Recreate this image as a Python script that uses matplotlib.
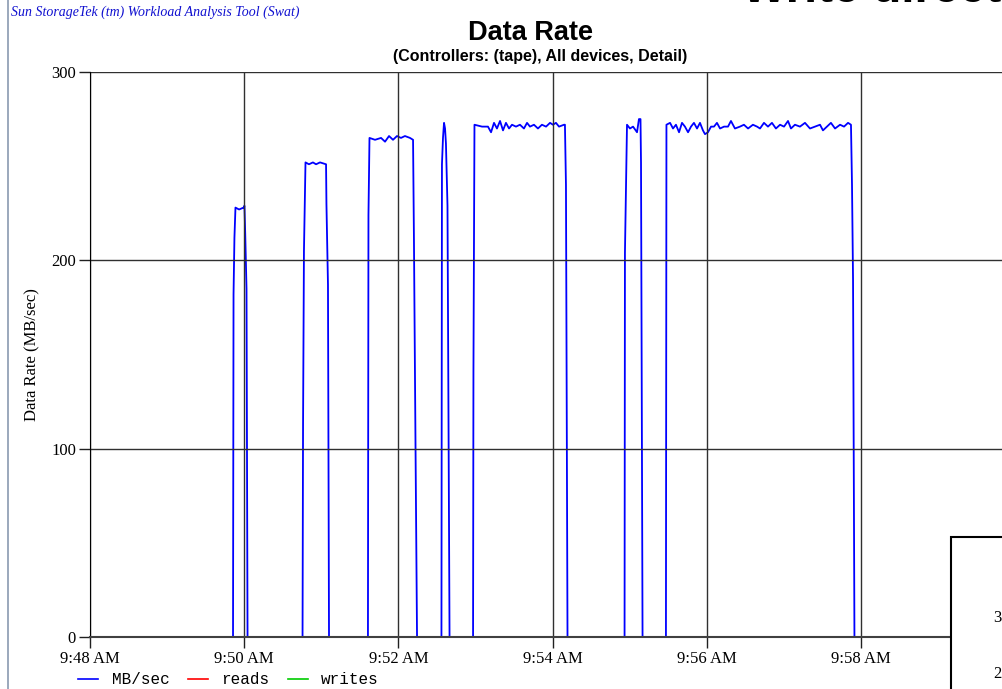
import numpy as np
import matplotlib.pyplot as plt
from matplotlib.lines import Line2D
from matplotlib.patches import Rectangle

# --- data: elapsed seconds after 9:48:00 AM and aggregate tape rate (MB/sec) ---
burst1_s = [111.3, 111.7, 112.4, 113.2, 116.0, 119.5, 120.2, 120.8, 121.8, 122.6]
burst1_mbs = [0, 182, 212, 228, 227, 228, 229, 214, 185, 0]

burst2_s = [165.4, 165.8, 166.5, 167.7, 170.4, 173.5, 175.9, 179.0, 183.7, 184.0, 185.2, 186.0]
burst2_mbs = [0, 113, 205, 252, 251, 252, 251, 252, 251, 230, 187, 0]

burst3_s = [216.3, 216.7, 217.5, 221.8, 226.5, 229.6, 232.7, 235.8, 238.9, 242.0,
            245.1, 249.0, 251.4, 252.1, 253.3, 254.5]
burst3_mbs = [0, 224, 265, 264, 265, 263, 266, 264, 266, 265,
              266, 265, 264, 211, 103, 0]

burst4_s = [273.5, 273.9, 274.7, 275.5, 276.3, 277.0, 278.2, 279.8]
burst4_mbs = [0, 251, 265, 273, 270, 262, 229, 0]

burst5_s = [298.1, 298.4, 299.2, 305.1, 309.7, 312.1, 314.4, 316.7, 319.1, 321.4,
            323.7, 326.1, 328.4, 331.5, 334.6, 337.7, 340.1, 342.4, 345.5, 348.6,
            351.7, 354.9, 358.0, 360.3, 362.6, 365.0, 368.9, 369.6, 370.4, 371.6]
burst5_mbs = [0, 141, 272, 271, 271, 268, 273, 270, 274, 269,
              273, 270, 272, 271, 272, 270, 273, 271, 272, 270,
              272, 271, 273, 272, 273, 271, 272, 272, 240, 0]

burst6_s = [416.0, 416.3, 417.9, 420.2, 422.6, 425.7, 427.2, 428.4, 428.8, 430.0]
burst6_mbs = [0, 204, 272, 270, 271, 268, 275, 275, 252, 0]

burst7_s = [448.2, 448.6, 451.4, 453.7, 456.0, 458.4, 460.7, 463.0, 465.4, 467.7,
            470.0, 472.4, 474.7, 477.0, 478.6, 480.9, 483.3, 485.6, 487.9, 490.3,
            493.4, 496.5, 498.8, 501.9, 505.8, 508.9, 512.1, 515.9, 519.1, 521.4,
            524.5, 527.6, 530.7, 533.8, 537.0, 540.1, 543.2, 545.5, 548.6, 552.5,
            556.4, 560.3, 564.2, 568.1, 570.4, 573.5, 576.6, 579.8, 583.7, 586.8,
            589.9, 592.2, 593.0, 593.8, 594.9]
burst7_mbs = [0, 272, 273, 270, 272, 268, 273, 271, 268, 271,
              273, 270, 273, 269, 267, 268, 271, 271, 273, 270,
              271, 271, 274, 270, 271, 272, 270, 272, 271, 270,
              273, 271, 273, 270, 272, 271, 274, 270, 272, 271,
              273, 270, 271, 272, 269, 271, 273, 270, 272, 271,
              273, 272, 240, 190, 0]

tick_minutes = [0, 2, 4, 6, 8, 10]
tick_labels = ['9:48 AM', '9:50 AM', '9:52 AM', '9:54 AM', '9:56 AM', '9:58 AM']
y_ticks = [0, 100, 200, 300]

bursts = [(burst1_s, burst1_mbs), (burst2_s, burst2_mbs), (burst3_s, burst3_mbs),
          (burst4_s, burst4_mbs), (burst5_s, burst5_mbs), (burst6_s, burst6_mbs),
          (burst7_s, burst7_mbs)]

SERIF = ['Liberation Serif', 'DejaVu Serif']
SANS = ['Liberation Sans', 'DejaVu Sans']
MONO = ['Liberation Mono', 'DejaVu Sans Mono']

W, H = 1002, 689
fig = plt.figure(figsize=(W / 100, H / 100), dpi=100)
fig.patch.set_facecolor('white')

# plot area runs off the right edge of the page
ax = fig.add_axes([90 / W, (H - 637) / H, (W - 90) / W, 565 / H])
# idle time sits on the zero line, so only the bursts are drawn
for s, v in bursts:
    ax.plot(np.array(s) / 60.0, v, color='#0000ff', lw=1.3, zorder=2)
ax.set_xlim(0, (W - 90) / 77.1)
ax.set_ylim(0, 300)

ax.set_xticks(tick_minutes)
ax.set_xticklabels(tick_labels, fontsize=12, family=SERIF)
ax.set_yticks(y_ticks)
ax.set_yticklabels([str(v) for v in y_ticks], fontsize=12, family=SERIF)
ax.tick_params(direction='out', length=8, width=1, color='#202020', pad=2)
ax.grid(True, color='#303030', lw=1.0, zorder=3)
ax.set_axisbelow(False)
for side in ['top', 'right']:
    ax.spines[side].set_visible(False)
ax.spines['left'].set_color('#000000')
ax.spines['bottom'].set_color('#404040')
ax.spines['bottom'].set_linewidth(1.5)
ax.spines['left'].set_zorder(4)
ax.spines['bottom'].set_zorder(4)
ax.set_ylabel('Data Rate (MB/sec)', fontsize=12, family=SERIF, labelpad=8)

fig.text(531 / W, 1 - 33 / H, 'Data Rate', ha='center', va='center',
         fontsize=19.5, fontweight='bold', family=SANS)
fig.text(540 / W, 1 - 56 / H, '(Controllers: (tape), All devices, Detail)',
         ha='center', va='center', fontsize=11.5, fontweight='bold', family=SANS)
fig.text(11 / W, 1 - 12 / H, 'Sun StorageTek (tm) Workload Analysis Tool (Swat)',
         ha='left', va='center', fontsize=10, style='italic', color='#1010d0',
         family=SERIF)
# slide heading cut off by the top edge
fig.text(742 / W, 1 - 2 / H, 'Write direct I/O', ha='left', va='baseline',
         fontsize=34, fontweight='bold', family=SANS, color='black')

# window border on the left
fig.add_artist(Line2D([8 / W, 8 / W], [0, 1], color='#8a9ab0', lw=1.2))

# overlapping panel in the lower right corner
fig.add_artist(Rectangle((951 / W, -0.1), 0.2, (H - 537) / H + 0.1,
                         transform=fig.transFigure, facecolor='white',
                         edgecolor='black', lw=1.5, zorder=10))
fig.text(993 / W, 1 - 618 / H, '3', fontsize=12, family=SERIF, va='center', zorder=11)
fig.text(993 / W, 1 - 674 / H, '2', fontsize=12, family=SERIF, va='center', zorder=11)

handles = [Line2D([], [], color='#0000ff', lw=1.2),
           Line2D([], [], color='#ff0000', lw=1.2),
           Line2D([], [], color='#00cc00', lw=1.2)]
fig.legend(handles, ['MB/sec', 'reads', 'writes'], loc='center left',
           bbox_to_anchor=(78 / W, (H - 680) / H), ncol=3, frameon=False,
           prop={'family': MONO, 'size': 11.5}, handlelength=1.25,
           handletextpad=0.85, columnspacing=1.15, borderpad=0, borderaxespad=0)

fig.savefig('out.png', dpi=100)
